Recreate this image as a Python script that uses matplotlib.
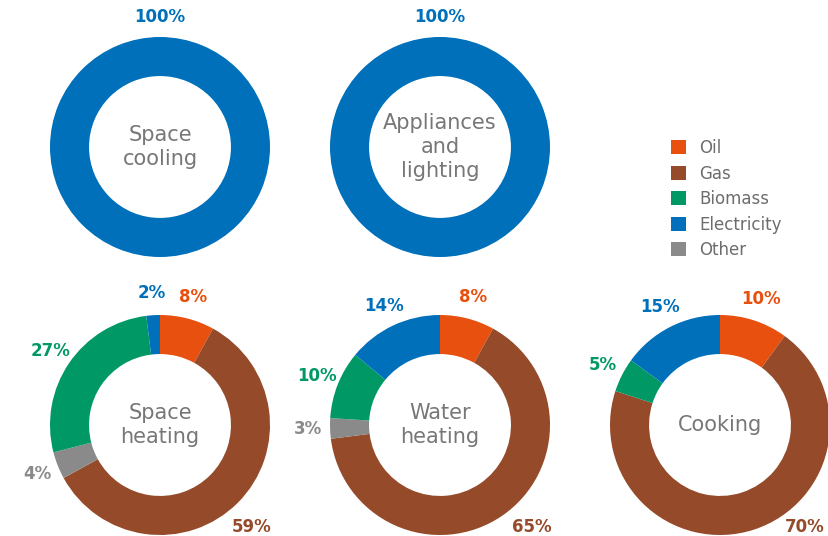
import numpy as np
import matplotlib.pyplot as plt
from matplotlib.patches import Patch

# energy sources (clockwise order from top)
sources = ["Oil", "Gas", "Other", "Biomass", "Electricity"]
colors = ["#e8500f", "#954a2a", "#8a8a8a", "#009966", "#0070bb"]
legend_order = ["Oil", "Gas", "Biomass", "Electricity", "Other"]

space_cooling = [0, 0, 0, 0, 100]
appliances = [0, 0, 0, 0, 100]
space_heating = [8, 59, 4, 27, 2]
water_heating = [8, 65, 3, 10, 14]
cooking = [10, 70, 0, 5, 15]

charts = [
    ("Space\ncooling", space_cooling, (160, 147)),
    ("Appliances\nand\nlighting", appliances, (440, 147)),
    ("Space\nheating", space_heating, (160, 425)),
    ("Water\nheating", water_heating, (440, 425)),
    ("Cooking", cooking, (720, 425)),
]

W, H = 829, 536
R = 110
fig = plt.figure(figsize=(W / 100, H / 100), dpi=100)
ax = fig.add_axes([0, 0, 1, 1])

for title, vals, (cx, cy) in charts:
    c = (cx, H - cy)
    ax.pie(vals, colors=colors, startangle=90, counterclock=False, radius=R, center=c,
           wedgeprops=dict(width=R * 0.355, edgecolor="none"), frame=True)
    ax.text(c[0], c[1], title, ha="center", va="center", fontsize=15, color="#777777",
            linespacing=1.25)
    # percentage labels
    total = sum(vals)
    cum = 0
    for v, col in zip(vals, colors):
        if v == 0:
            continue
        mid = (cum + v / 2) / total
        cum += v
        deg = 90 - 360 * mid
        rr = R * 1.2
        if v == 100:
            deg = 90
            rr = R * 1.18
        elif -90 < deg < -44:
            # keep the big lower-right labels inside the picture
            deg = -48
            rr = R * 1.25
        ang = np.deg2rad(deg)
        x = min(c[0] + rr * np.cos(ang), W - 24)
        ax.text(x, c[1] + rr * np.sin(ang), f"{v}%",
                ha="center", va="center", fontsize=12, fontweight="bold", color=col)

ax.set_xlim(0, W)
ax.set_ylim(0, H)
ax.set_aspect("equal")
ax.axis("off")

handles = [Patch(facecolor=colors[sources.index(s)], edgecolor="none") for s in legend_order]
leg = ax.legend(handles, legend_order, loc="upper left", bbox_to_anchor=(656 / W, 1 - 124 / H),
                frameon=False, fontsize=12, handlelength=0.9, handleheight=0.9,
                handletextpad=0.8, labelspacing=0.45)
for t in leg.get_texts():
    t.set_color("#6d6d6d")

fig.savefig("out.png", dpi=100)
